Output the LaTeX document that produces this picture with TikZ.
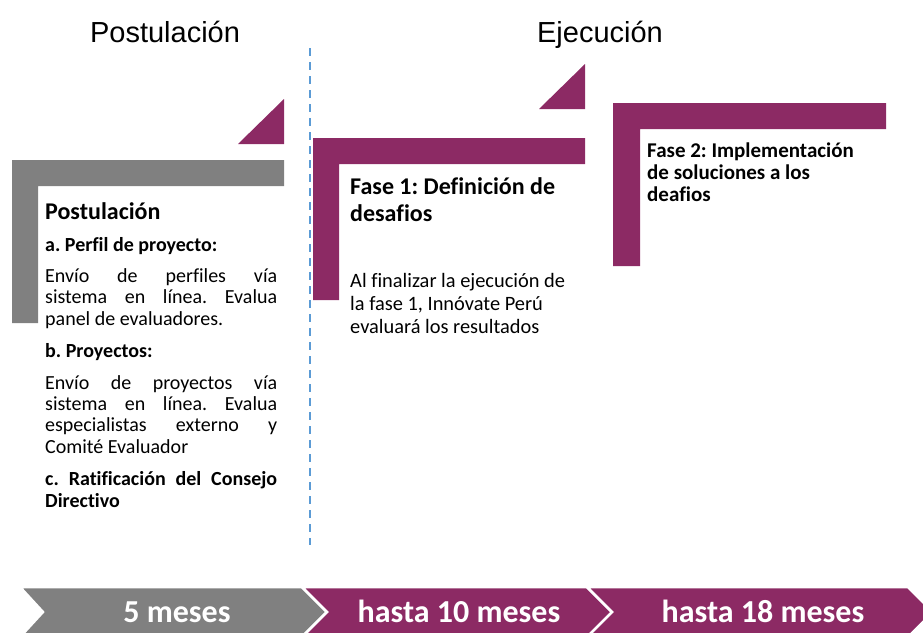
\documentclass[tikz,border=0pt]{standalone}
\usepackage{fontspec}
\setmainfont{Carlito}[Ligatures=NoCommon]
\newfontfamily\arialf{Liberation Sans}
\definecolor{plum}{RGB}{140,42,100}
\definecolor{midgray}{RGB}{128,128,128}
\definecolor{dashblue}{RGB}{91,155,213}
\frenchspacing
\tikzset{
  phase/.style={anchor=base, inner sep=0pt, font=\arialf\fontsize{29}{34}\selectfont},
  heading/.style={anchor=base west, inner sep=0pt, font=\bfseries\fontsize{24}{28}\selectfont},
  subhead/.style={anchor=base west, inner sep=0pt, font=\bfseries\fontsize{20}{24}\selectfont},
  bodyl/.style={anchor=base west, inner sep=0pt, font=\fontsize{20}{24}\selectfont},
  bodyf/.style={anchor=base west, inner sep=0pt, font=\fontsize{20.4}{24}\selectfont},
  fasetwo/.style={anchor=base west, inner sep=0pt, font=\bfseries\fontsize{21}{25}\selectfont},
  chevtext/.style={anchor=base, inner sep=0pt, text=white, font=\bfseries\fontsize{32}{36}\selectfont},
  chev/.style={draw=white, line width=2.5pt, line join=miter},
  dashline/.style={draw=dashblue, line width=2pt, dash pattern=on 8pt off 6pt}
}
\newcommand{\jline}[1]{\makebox[232pt][s]{#1}}
\begin{document}
\begin{tikzpicture}[x=1pt,y=-1pt]
\useasboundingbox (0,0) rectangle (923,632);
\clip (0,0) rectangle (923,632);
% phase titles
\node[phase] (tpost) at (165,42) {Postulación};
\node[phase] (tejec) at (600,42) {Ejecución};
% dashed divider
\coordinate (dtop) at (310,48);
\coordinate (dbot) at (310,545);
\draw[dashline] (dtop) -- (dbot);
% L shapes and triangles
\fill[midgray] (12,160) -- (284,160) -- (284,186) -- (38,186) -- (38,323) -- (12,323) -- cycle;
\fill[plum] (284,99) -- (284,144) -- (238,144) -- cycle;
\fill[plum] (313,138) -- (585,138) -- (585,164) -- (339,164) -- (339,300) -- (313,300) -- cycle;
\fill[plum] (585,64) -- (585,109) -- (539,109) -- cycle;
\fill[plum] (613,103) -- (886,103) -- (886,129) -- (640,129) -- (640,266) -- (613,266) -- cycle;
% left block text
\node[heading] (p1) at (45,219) {Postulación};
\node[subhead] (p2) at (45,251) {a. Perfil de proyecto:};
\node[bodyl] (p3) at (45,282) {\jline{Envío de perfiles vía}};
\node[bodyl] (p4) at (45,303.5) {\jline{sistema en línea. Evalua}};
\node[bodyl] (p5) at (45,325) {panel de evaluadores.};
\node[subhead] (p6) at (45,357) {b. Proyectos:};
\node[bodyl] (p7) at (45,389) {\jline{Envío de proyectos vía}};
\node[bodyl] (p8) at (45,410) {\jline{sistema en línea. Evalua}};
\node[bodyl] (p9) at (45,431.5) {\jline{especialistas externo y}};
\node[bodyl] (p10) at (45,453) {Comité Evaluador};
\node[subhead] (p11) at (45,485) {\jline{c. Ratificación del Consejo}};
\node[subhead] (p12) at (45,507) {Directivo};
% fase 1 text
\node[heading] (f1) at (350,194) {Fase 1: Definición de};
\node[heading] (f2) at (350,221) {desafios};
\node[bodyf] (f3) at (350,287) {Al finalizar la ejecución de};
\node[bodyf] (f4) at (350,310) {la fase 1, Innóvate Perú};
\node[bodyf] (f5) at (350,333) {evaluará los resultados};
% fase 2 text
\node[fasetwo] (g1) at (647,157) {Fase 2: Implementación};
\node[fasetwo] (g2) at (647,179) {de soluciones a los};
\node[fasetwo] (g3) at (647,201) {deafios};
% chevrons
\path[chev, fill=midgray] (20,587) -- (302,587) -- (327,612) -- (302,637) -- (20,637) -- (43,612) -- cycle;
\path[chev, fill=plum] (302,587) -- (587,587) -- (612,612) -- (587,637) -- (302,637) -- (327,612) -- cycle;
\path[chev, fill=plum] (587,587) -- (908,587) -- (933,612) -- (908,637) -- (587,637) -- (612,612) -- cycle;
\node[chevtext] (c1) at (177,622) {5 meses};
\node[chevtext] (c2) at (459,622) {hasta 10 meses};
\node[chevtext] (c3) at (763,622) {hasta 18 meses};
\end{tikzpicture}
\end{document}
